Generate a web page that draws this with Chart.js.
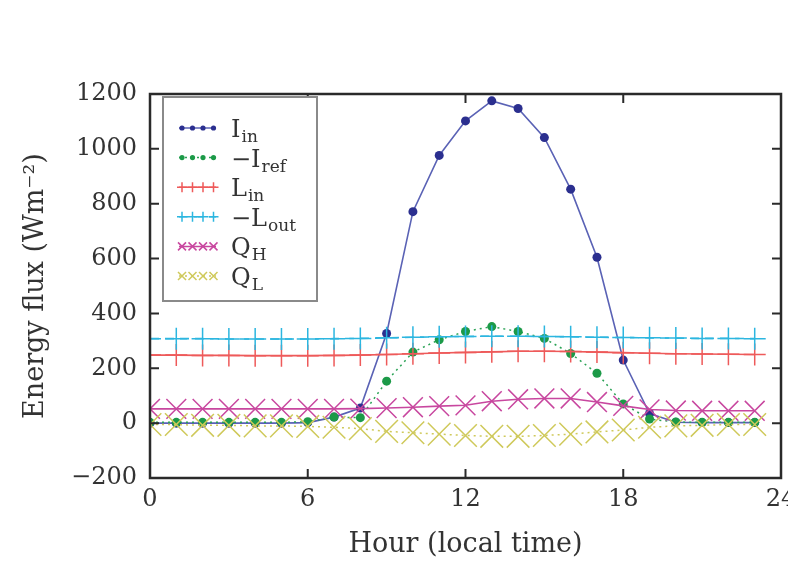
<!DOCTYPE html>
<html>
<head>
<meta charset="utf-8">
<script src="https://cdn.jsdelivr.net/npm/chart.js@4.4.1/dist/chart.umd.min.js"></script>
<style>
  html, body { margin: 0; padding: 0; background: #fff; }
</style>
</head>
<body>
<canvas id="fluxChart" width="788" height="562"></canvas>
<script>
// hourly values (W m-2)
const hours = [0,1,2,3,4,5,6,7,8,9,10,11,12,13,14,15,16,17,18,19,20,21,22,23];
const iIn   = [0,0,0,0,0,0,2,22,55,327,771,976,1102,1175,1147,1041,853,605,230,35,3,2,2,2];
const iRef  = [3,3,3,3,3,3,5,22,20,153,259,304,334,352,334,309,254,182,70,15,4,3,3,3];
const lIn   = [248,248,247,247,246,246,246,247,248,250,253,256,258,260,262,262,261,259,257,255,253,252,251,250];
const lOut  = [308,308,308,307,307,307,307,308,309,311,313,315,316,317,317,316,315,313,312,311,310,309,309,308];
const qH    = [52,52,52,52,52,52,52,52,53,55,58,62,65,80,87,90,90,77,63,50,46,45,45,45];
const qL    = [-5,-5,-8,-8,-10,-10,-12,-15,-20,-30,-35,-40,-45,-48,-48,-45,-40,-32,-25,-15,-10,-8,-5,-5];

// legend text: main part + subscript
const seriesNames = [['I','in'], ['\u2212I','ref'], ['L','in'], ['\u2212L','out'], ['Q','H'], ['Q','L']];
const xTicks = [0, 6, 12, 18, 24];

const serif = '"DejaVu Serif", "Liberation Serif", serif';
Chart.defaults.font.family = serif;
Chart.defaults.color = '#333';

function pts(vals) {
    return vals.map((v, i) => ({ x: hours[i], y: v }));
}

function fmt(v) {
    return v < 0 ? '\u2212' + Math.abs(v) : String(v);
}

// draw one marker (used for the legend samples)
function mark(ctx, style, x, y, r) {
    ctx.beginPath();
    if (style === 'circle') {
        ctx.arc(x, y, r, 0, Math.PI * 2);
        ctx.fill();
        return;
    }
    if (style === 'cross') {
        ctx.moveTo(x - r, y); ctx.lineTo(x + r, y);
        ctx.moveTo(x, y - r); ctx.lineTo(x, y + r);
    } else {
        const d = r * 0.8;
        ctx.moveTo(x - d, y - d); ctx.lineTo(x + d, y + d);
        ctx.moveTo(x - d, y + d); ctx.lineTo(x + d, y - d);
    }
    ctx.stroke();
}

// box frame + inward ticks + x tick labels (the last one runs off the edge like the original)
const frameTicks = {
    id: 'frameTicks',
    afterDraw(chart) {
        const { ctx, chartArea: a, scales: { x, y } } = chart;
        ctx.save();
        ctx.strokeStyle = '#2a2a2a';
        ctx.lineWidth = 2;
        ctx.beginPath();
        xTicks.forEach(v => {
            const px = x.getPixelForValue(v);
            ctx.moveTo(px, a.bottom); ctx.lineTo(px, a.bottom - 9);
            ctx.moveTo(px, a.top); ctx.lineTo(px, a.top + 9);
        });
        y.ticks.forEach(t => {
            const py = y.getPixelForValue(t.value);
            ctx.moveTo(a.left, py); ctx.lineTo(a.left + 9, py);
            ctx.moveTo(a.right, py); ctx.lineTo(a.right - 9, py);
        });
        ctx.stroke();
        ctx.lineWidth = 2.5;
        ctx.strokeRect(a.left, a.top, a.right - a.left, a.bottom - a.top);

        ctx.fillStyle = '#333';
        ctx.font = '24px ' + serif;
        ctx.textAlign = 'center';
        ctx.textBaseline = 'alphabetic';
        xTicks.forEach(v => ctx.fillText(fmt(v), x.getPixelForValue(v), a.bottom + 28));
        ctx.restore();
    }
};

// legend box in the upper left, with subscripts
const boxLegend = {
    id: 'boxLegend',
    afterDraw(chart) {
        const ctx = chart.ctx;
        const left = 163, top = 97, w = 154, h = 204, rowH = 29.6, firstRow = 128;
        ctx.save();
        ctx.fillStyle = '#fff';
        ctx.fillRect(left, top, w, h);
        ctx.strokeStyle = '#8a8a8a';
        ctx.lineWidth = 2;
        ctx.strokeRect(left, top, w, h);

        chart.data.datasets.forEach((ds, i) => {
            const yy = firstRow + i * rowH;
            ctx.strokeStyle = ds.borderColor;
            ctx.fillStyle = ds.pointBackgroundColor;
            ctx.lineWidth = 1.5;
            ctx.setLineDash(ds.borderDash || []);
            ctx.beginPath();
            ctx.moveTo(179, yy); ctx.lineTo(216, yy);
            ctx.stroke();
            ctx.setLineDash([]);
            ctx.strokeStyle = ds.pointBorderColor;
            const r = ds.pointStyle === 'circle' ? 2.6 : 5;
            for (let k = 0; k < 4; k++) mark(ctx, ds.pointStyle, 182 + k * 10.5, yy, r);

            const [main, sub] = seriesNames[i];
            ctx.fillStyle = '#333';
            ctx.font = '24px ' + serif;
            ctx.fillText(main, 231, yy + 9);
            const mw = ctx.measureText(main).width;
            ctx.font = '17px ' + serif;
            ctx.fillText(sub, 231 + mw + 1, yy + 14);
        });
        ctx.restore();
    }
};

const ctx = document.getElementById('fluxChart').getContext('2d');
new Chart(ctx, {
    type: 'line',
    data: {
        datasets: [
            {
                label: 'I_in', data: pts(iIn), order: 6,
                borderColor: '#5a62b5', borderWidth: 1.6,
                pointStyle: 'circle', pointRadius: 4.5,
                pointBackgroundColor: '#2b2f8f', pointBorderColor: '#2b2f8f', pointBorderWidth: 0
            },
            {
                label: '-I_ref', data: pts(iRef), order: 5,
                borderColor: '#2aa255', borderWidth: 1.5, borderDash: [2, 4],
                pointStyle: 'circle', pointRadius: 4.5,
                pointBackgroundColor: '#1c9a48', pointBorderColor: '#1c9a48', pointBorderWidth: 0
            },
            {
                label: 'L_in', data: pts(lIn), order: 4,
                borderColor: '#ee5a5a', borderWidth: 1.6,
                pointStyle: 'cross', pointRadius: 11,
                pointBackgroundColor: '#ee5a5a', pointBorderColor: '#ee5a5a', pointBorderWidth: 1.5
            },
            {
                label: '-L_out', data: pts(lOut), order: 3,
                borderColor: '#2cb6e0', borderWidth: 1.6, borderDash: [9, 6],
                pointStyle: 'cross', pointRadius: 11,
                pointBackgroundColor: '#2cb6e0', pointBorderColor: '#2cb6e0', pointBorderWidth: 1.5
            },
            {
                label: 'Q_H', data: pts(qH), order: 2,
                borderColor: '#c8479f', borderWidth: 1.6,
                pointStyle: 'crossRot', pointRadius: 14,
                pointBackgroundColor: '#c8479f', pointBorderColor: '#c8479f', pointBorderWidth: 1.5
            },
            {
                label: 'Q_L', data: pts(qL), order: 1,
                borderColor: '#cfc95a', borderWidth: 1.5, borderDash: [2, 4],
                pointStyle: 'crossRot', pointRadius: 16,
                pointBackgroundColor: '#cfc95a', pointBorderColor: '#cfc95a', pointBorderWidth: 1.5
            }
        ]
    },
    options: {
        responsive: false,
        animation: false,
        layout: { autoPadding: false, padding: { top: 94, right: 7, left: 0, bottom: 0 } },
        plugins: { legend: { display: false }, tooltip: { enabled: false } },
        scales: {
            x: {
                type: 'linear', min: 0, max: 24,
                afterFit: s => { s.height = 84; s.paddingLeft = 0; s.paddingRight = 0; },
                grid: { display: false },
                border: { display: false },
                ticks: { display: false },
                title: { display: true, text: 'Hour (local time)', font: { size: 27 }, padding: { top: 0, bottom: 1 } }
            },
            y: {
                min: -200, max: 1200,
                afterFit: s => { s.width = 150; s.paddingTop = 0; s.paddingBottom = 0; },
                grid: { display: false },
                border: { display: false },
                ticks: { stepSize: 200, font: { size: 24 }, padding: 5, callback: v => fmt(v) },
                title: { display: true, text: 'Energy flux (Wm\u207B\u00B2)', font: { size: 27 }, padding: { top: 20, bottom: 0 } }
            }
        }
    },
    plugins: [frameTicks, boxLegend]
});
</script>
</body>
</html>
